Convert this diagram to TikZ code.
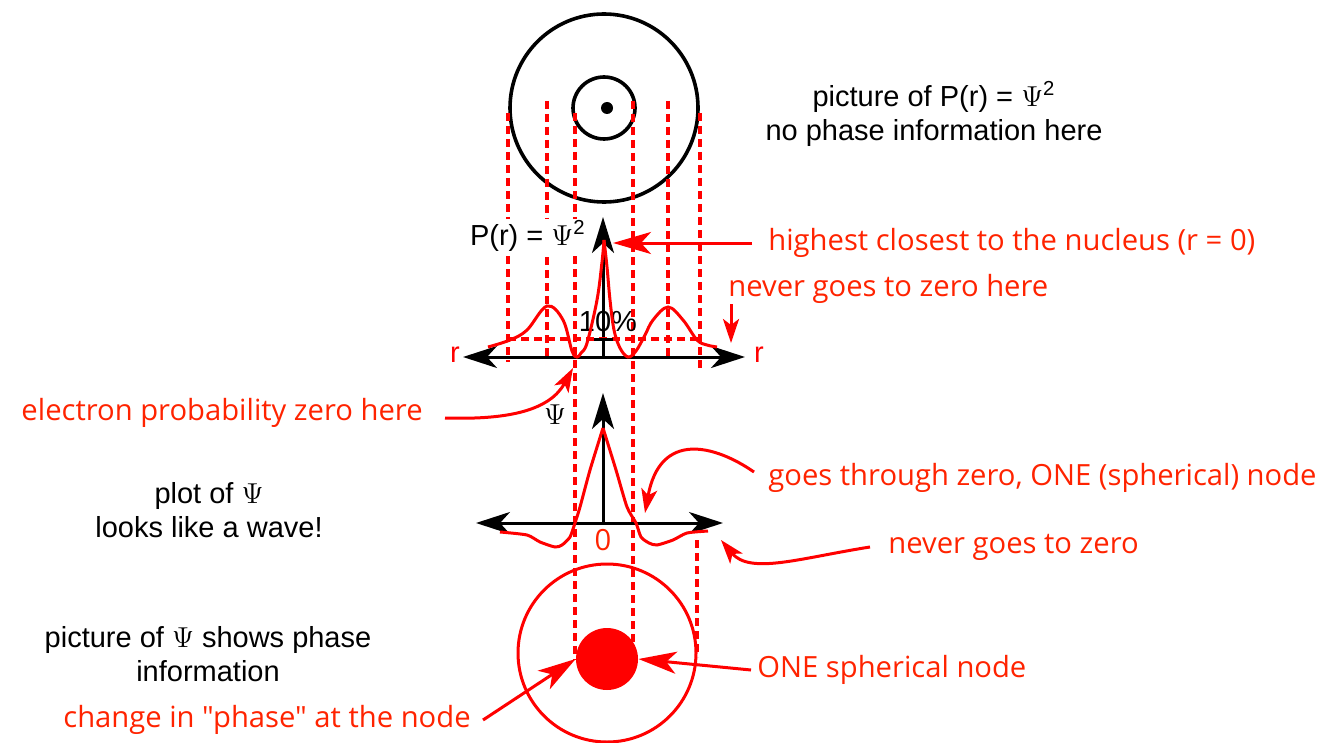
\documentclass[tikz,border=0pt]{standalone}
\usepackage{fontspec}
\setmainfont{Liberation Sans}
\newfontfamily\handfont{Open Sans}
\usepackage{tikz}
\usetikzlibrary{arrows.meta}
\definecolor{notered}{RGB}{255,35,0}

\begin{document}
\begin{tikzpicture}[
      x=0.5pt, y=-0.5pt,
      lbl/.style={font=\fontsize{14.5}{17}\selectfont, align=center, inner sep=0pt},
      note/.style={font=\handfont\fontsize{14.6}{17}\selectfont, text=notered, inner sep=0pt},
      axis/.style={{Stealth[length=17pt,width=11pt,inset=5pt]}-{Stealth[length=17pt,width=11pt,inset=5pt]}, line width=1.5pt},
      vaxis/.style={-{Stealth[length=18pt,width=11pt,inset=5pt]}, line width=1.5pt},
      guide/.style={red, line width=1.7pt, dash pattern=on 4pt off 2.5pt},
      wave/.style={red, line width=1.5pt},
      arr/.style={-{Stealth[length=12pt,width=8pt,inset=3pt]}, red, line width=1.5pt},
      bigarr/.style={-{Stealth[length=19pt,width=11pt,inset=5pt]}, red, line width=1.5pt}
    ]
    \useasboundingbox (0,0) rectangle (1331,743);
    % picture of P(r)
    \draw[line width=1.8pt] (604,108) circle[radius=94];
    \draw[line width=1.8pt] (604,108) circle[radius=31];
    \fill (607,108) circle[radius=6];
    % P(r) axes
    \coordinate (porg) at (603,357);
    \draw[axis] (463,357) -- (745,357);
    \draw[vaxis] (porg) -- (603,217);
    % guides
    \draw[guide] (508,113) -- (508,362);
    \draw[guide] (547,101) -- (547,357);
    \draw[guide] (575,113) -- (575,660);
    \draw[guide] (633,101) -- (633,648);
    \draw[guide] (668,101) -- (668,357);
    \draw[guide] (700,113) -- (700,372);
    \draw[guide] (697,540) -- (697,657);
    \draw[guide] (508,339) -- (700,339);
    \draw[line width=1.5pt] (594,339) -- (613,339);
    \node[lbl] (pct) at (608,322) {10\%};
    \node[lbl, fill=white, inner sep=1pt, anchor=east] (plbl) at (588,236) {P(r) = $\Psi$\textsuperscript{2}};
    \node[lbl, text=red] (rl) at (455,355) {r};
    \node[lbl, text=red] (rr) at (759,355) {r};
    \draw[wave] plot[smooth, tension=0.6] coordinates {(604,240) (602,262) (597,300) (587,343) (581,353) (577,357) (572,351) (563,320) (547,306) (527,330) (510,340) (488,347)};
    \draw[wave] plot[smooth, tension=0.6] coordinates {(604,240) (607,267) (610,300) (614,330) (620,348) (628,357) (636,351) (645,335) (653,320) (668,307) (683,320) (697,340) (707,345) (717,347)};
    % plot of Psi
    \coordinate (worg) at (603,523);
    \draw[axis] (476,523) -- (723,523);
    \draw[vaxis] (worg) -- (603,393);
    \node[lbl] (wlbl) at (555,415) {$\Psi$};
    \node[note] (zlbl) at (603,540) {0};
    \draw[wave] plot[smooth, tension=0.4] coordinates {(603,428) (590,470) (580,507) (575,523) (570,537) (562,545) (555,547) (540,542) (527,535) (500,532)};
    \draw[wave] plot[smooth, tension=0.4] coordinates {(603,428) (616,470) (627,507) (636,523) (641,537) (649,543) (657,545) (673,540) (687,533) (708,531)};
    % picture of Psi
    \draw[red, line width=1.5pt] (607,653) circle[radius=89];
    \node[circle, fill=red, minimum size=31pt, inner sep=0pt] (disc) at (607,659) {};
    % black labels
    \node[lbl] (toplbl) at (934,114) {picture of P(r) = $\Psi$\textsuperscript{2}\\no phase information here};
    \node[lbl] (plotlbl) at (209,510) {plot of $\Psi$\\looks like a wave!};
    \node[lbl] (piclbl) at (208,654) {picture of $\Psi$ shows phase\\information};
    % red notes
    \node[note, anchor=west] (hi) at (768,243) {highest closest to the nucleus (r = 0)};
    \coordinate (hitip) at (613,243);
    \draw[bigarr] ([xshift=-8pt]hi.west) -- (hitip);
    \node[note, anchor=west] (nzh) at (728,289) {never goes to zero here};
    \coordinate (nztip) at (731,343);
    \draw[arr] (nztip |- nzh.south) -- (nztip);
    \node[note, anchor=east] (epz) at (423,413) {electron probability zero here};
    \coordinate (eptip) at (573,368);
    \draw[arr] ([xshift=11pt,yshift=-2.5pt]epz.east) .. controls (510,420) and (550,410) .. (eptip);
    \node[note, anchor=west] (gtz) at (768,478) {goes through zero, ONE (spherical) node};
    \coordinate (gttip) at (645,513);
    \draw[arr] ([xshift=-7pt,yshift=3pt]gtz.west) .. controls (715,445) and (660,430) .. (gttip);
    \node[note, anchor=west] (ngz) at (888,547) {never goes to zero};
    \coordinate (ngtip) at (721,540);
    \draw[arr] ([xshift=-9pt]ngz.west) .. controls (800,558) and (750,575) .. (ngtip);
    \node[note, anchor=west] (osn) at (757,670) {ONE spherical node};
    \draw[bigarr] ([xshift=-3pt]osn.west) -- (disc.east);
    \node[note, anchor=west] (cip) at (63,720) {change in "phase" at the node};
    \draw[bigarr] ([xshift=6pt]cip.east) -- (disc.west);
\end{tikzpicture}
\end{document}
